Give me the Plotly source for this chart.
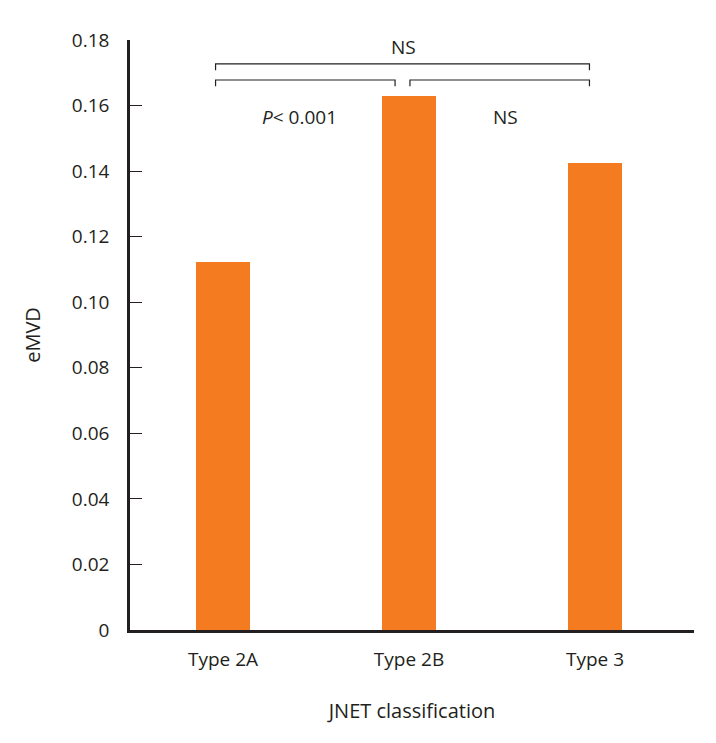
import plotly.graph_objects as go

categories = ["Type 2A", "Type 2B", "Type 3"]
emvd = [0.1123, 0.1629, 0.1425]
y_ticks = [0, 0.02, 0.04, 0.06, 0.08, 0.10, 0.12, 0.14, 0.16, 0.18]
y_tick_labels = ["0", "0.02", "0.04", "0.06", "0.08", "0.10", "0.12", "0.14", "0.16", "0.18"]

# comparison brackets: (x0, x1, y, label, label_x, label_y)
brackets = [
    (-0.04, 1.97, 0.1727, "NS", 0.97, 0.178),
    (-0.04, 0.925, 0.1678, "<i>P</i>< 0.001", 0.41, 0.1565),
    (1.005, 1.97, 0.1678, "NS", 1.52, 0.1565),
]

FONT = "Open Sans"
TXT = "#231f20"
ORANGE = "#f47b20"

fig = go.Figure()
fig.add_trace(go.Bar(
    x=list(range(len(categories))), y=emvd,
    marker=dict(color=ORANGE, line=dict(width=0)),
    width=0.29, showlegend=False,
))

for x0, x1, y, label, lx, ly in brackets:
    drop = 0.0019
    fig.add_trace(go.Scatter(
        x=[x0, x0, x1, x1], y=[y - drop, y, y, y - drop],
        mode="lines", line=dict(color=TXT, width=1.2),
        showlegend=False, hoverinfo="skip",
    ))
    fig.add_annotation(x=lx, y=ly, text=label, showarrow=False,
                       font=dict(family=FONT, size=19, color=TXT))

# page body adds ~8px offset, margins compensate for it
fig.update_layout(
    width=716, height=743,
    margin=dict(l=122, r=30, t=32, b=121),
    plot_bgcolor="white", paper_bgcolor="white",
    font=dict(family=FONT, size=19, color=TXT),
    bargap=0,
)
fig.update_xaxes(
    range=[-0.5, 2.532], tickvals=list(range(len(categories))), ticktext=categories,
    showgrid=False, zeroline=False, showline=True, linecolor=TXT, linewidth=2.5,
    ticks="", ticklabelstandoff=10,
    title=dict(text="JNET classification", standoff=34, font=dict(size=20)),
)
fig.update_yaxes(
    range=[0, 0.18], tickvals=y_ticks, ticktext=y_tick_labels,
    showgrid=False, zeroline=False, showline=True, linecolor=TXT, linewidth=2.5,
    ticks="inside", ticklen=12, tickwidth=1.2, tickcolor=TXT, ticklabelstandoff=14,
    title=dict(text="eMVD", standoff=26, font=dict(size=20)),
)

fig.write_html("out.html")
